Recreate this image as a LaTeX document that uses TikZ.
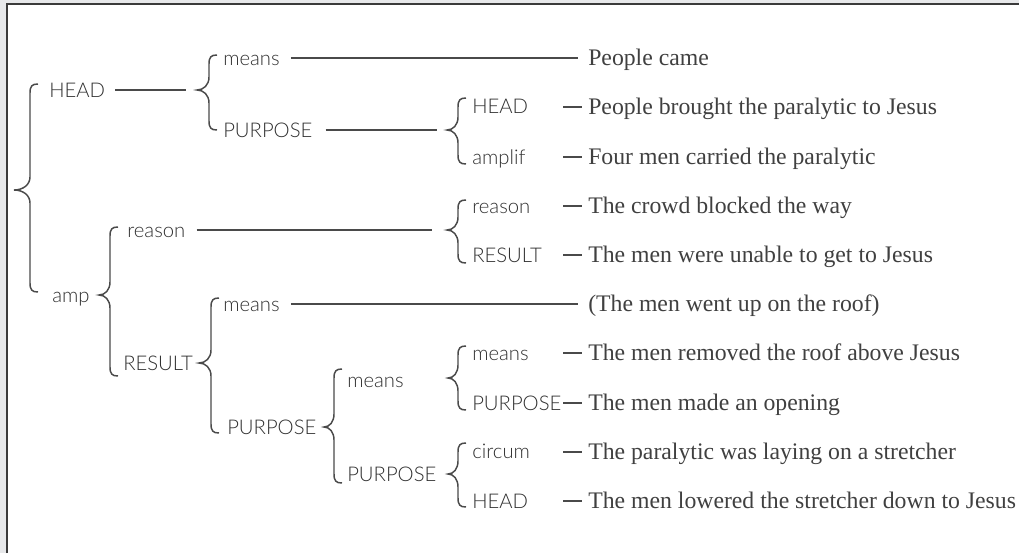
\documentclass[tikz,border=0pt]{standalone}
\usepackage{fontspec}
\setmainfont{Liberation Serif}
\setsansfont{Lato Light}
\definecolor{ink}{HTML}{303030}
\definecolor{clauseink}{HTML}{404040}
\definecolor{rule}{HTML}{4A4A4A}
\definecolor{pagegray}{HTML}{E7E8EA}
\definecolor{frameline}{HTML}{3A3A3A}

% curly brace opening to the right: name, x of stem, top y, tip y, bottom y, tip depth
\newcommand{\curlybrace}[6]{%
  \coordinate (#1) at ({#2-#6},#4);
  \draw[bracestyle] ({#2+8},#3) .. controls ({#2+2},#3) and (#2,{#3+2}) .. (#2,{#3+9})
    -- (#2,{#4-13}) .. controls (#2,{#4-5}) and ({#2-#6*0.45},#4) .. (#1)
    .. controls ({#2-#6*0.45},#4) and (#2,{#4+5}) .. (#2,{#4+13})
    -- (#2,{#5-9}) .. controls (#2,{#5-2}) and ({#2+2},#5) .. ({#2+8},#5);
}

\begin{document}
\begin{tikzpicture}[x=0.75pt,y=-0.75pt,
  lab/.style={anchor=west,inner sep=0pt,text=ink,
    font=\sffamily\fontsize{15.2}{18}\selectfont,text height=10.6pt,text depth=0pt},
  clause/.style={anchor=west,inner sep=0pt,text=clauseink,
    font=\fontsize{17.8}{21}\selectfont,text height=11.8pt,text depth=0pt},
  conn/.style={draw=rule,line width=0.9pt},
  bracestyle/.style={draw=rule,line width=1.1pt},
  dashlead/.style={draw=rule,line width=0.9pt}]

% page and frame
\useasboundingbox (0,0) rectangle (1019,553);
\fill[pagegray] (0,0) rectangle (1019,553);
\fill[white] (7,4) rectangle (1019,553);
\draw[frameline,line width=1.2pt] (7,553) -- (7,4) -- (1019,4);

% relation labels
\node[lab] (h1)  at (49,90)   {HEAD};
\node[lab] (a1)  at (52,295)  {amp};
\node[lab] (m2)  at (223,58)  {means};
\node[lab] (p2)  at (223,130) {PURPOSE};
\node[lab] (r2)  at (127,230) {reason};
\node[lab] (rs2) at (123,363) {RESULT};
\node[lab] (h3)  at (472,106) {HEAD};
\node[lab] (am3) at (472,157) {amplif};
\node[lab] (r3)  at (472,206) {reason};
\node[lab] (rs3) at (472,255) {RESULT};
\node[lab] (m3)  at (223,304) {means};
\node[lab] (p3)  at (227,427) {PURPOSE};
\node[lab] (m4)  at (347,380) {means};
\node[lab] (p4)  at (347,474) {PURPOSE};
\node[lab] (m5)  at (472,353) {means};
\node[lab] (p5)  at (472,403) {PURPOSE};
\node[lab] (c5)  at (472,451) {circum};
\node[lab] (h5)  at (472,501) {HEAD};

% clauses
\node[clause] (t1)  at (588,58)  {People came};
\node[clause] (t2)  at (588,107) {People brought the paralytic to Jesus};
\node[clause] (t3)  at (588,157) {Four men carried the paralytic};
\node[clause] (t4)  at (588,206) {The crowd blocked the way};
\node[clause] (t5)  at (588,255) {The men were unable to get to Jesus};
\node[clause] (t6)  at (588,304) {(The men went up on the roof)};
\node[clause] (t7)  at (588,353) {The men removed the roof above Jesus};
\node[clause] (t8)  at (588,403) {The men made an opening};
\node[clause] (t9)  at (588,452) {The paralytic was laying on a stretcher};
\node[clause] (t10) at (588,501) {The men lowered the stretcher down to Jesus};

% braces
\curlybrace{b1}{30}{84}{190}{292}{16}
\curlybrace{b2}{209}{55}{90}{130}{12}
\curlybrace{b3}{458}{98}{130}{164}{11}
\curlybrace{b4}{458}{200}{230}{263}{11}
\curlybrace{b5}{110}{227}{295}{376}{11}
\curlybrace{b6}{211}{298}{363}{433}{12}
\curlybrace{b7}{334}{369}{427}{483}{10}
\curlybrace{b8}{458}{346}{378}{410}{10}
\curlybrace{b9}{458}{443}{474}{507}{10}

% long connectors
\draw[conn,shorten <=7.5pt,shorten >=8.2pt] (h1.east) -- (b2);
\draw[conn,shorten <=8.2pt,shorten >=7.5pt] (m2.east) -- (t1.west);
\draw[conn,shorten <=9.7pt,shorten >=7.5pt] (p2.east) -- (b3);
\draw[conn,shorten <=8.2pt,shorten >=11.2pt] (r2.east) -- (b4);
\draw[conn,shorten <=8.2pt,shorten >=7.5pt] (m3.east) -- (t6.west);

% short leads before clauses
\foreach \t in {t2,t3,t4,t5,t7,t8,t9,t10}
  \draw[dashlead] ([xshift=-18.75pt]\t.west) -- ([xshift=-4.5pt]\t.west);

\end{tikzpicture}
\end{document}
